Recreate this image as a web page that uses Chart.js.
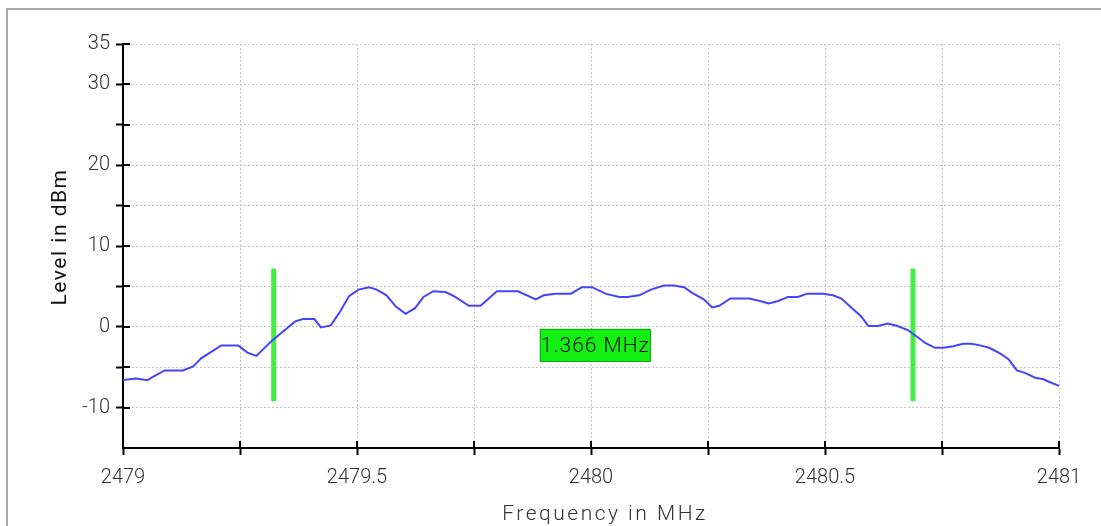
<!DOCTYPE html>
<html>
<head>
<meta charset="utf-8">
<script src="https://cdn.jsdelivr.net/npm/chart.js@4.4.1/dist/chart.umd.min.js"></script>
<style>
    body { margin: 0; background: #fff; }
    #marco {
        position: absolute; left: 6px; top: 8px; width: 1095px; height: 518px;
        border-top: 2px solid #a6a6a6; border-left: 2px solid #a6a6a6;
    }
    #grafica { position: absolute; left: 0; top: 0; }
</style>
</head>
<body>
<div id="marco"></div>
<canvas id="grafica" width="1101" height="526"></canvas>
<script>
// espectro medido (MHz, dBm)
const frecuencias = [
    2479.000, 2479.028, 2479.052, 2479.064, 2479.089, 2479.128, 2479.150, 2479.167,
    2479.210, 2479.246, 2479.266, 2479.285, 2479.317, 2479.331, 2479.368, 2479.385,
    2479.409, 2479.423, 2479.444, 2479.464, 2479.483, 2479.503, 2479.526, 2479.542,
    2479.563, 2479.583, 2479.604, 2479.624, 2479.642, 2479.663, 2479.689, 2479.710,
    2479.739, 2479.764, 2479.799, 2479.844, 2479.882, 2479.899, 2479.924, 2479.957,
    2479.981, 2480.002, 2480.031, 2480.060, 2480.078, 2480.103, 2480.128, 2480.156,
    2480.177, 2480.199, 2480.216, 2480.241, 2480.259, 2480.274, 2480.298, 2480.338,
    2480.357, 2480.380, 2480.400, 2480.421, 2480.442, 2480.462, 2480.496, 2480.517,
    2480.535, 2480.556, 2480.577, 2480.593, 2480.613, 2480.634, 2480.655, 2480.677,
    2480.696, 2480.714, 2480.735, 2480.753, 2480.774, 2480.795, 2480.813, 2480.831,
    2480.851, 2480.874, 2480.892, 2480.910, 2480.927, 2480.949, 2480.967, 2480.978,
    2481.000
];
const niveles = [
    -6.6, -6.4, -6.6, -6.2, -5.4, -5.4, -4.9, -3.9,
    -2.3, -2.3, -3.2, -3.6, -1.8, -1.1, 0.67, 0.96,
    0.96, -0.08, 0.17, 1.9, 3.8, 4.6, 4.9, 4.6,
    3.9, 2.5, 1.6, 2.3, 3.7, 4.4, 4.3, 3.7,
    2.6, 2.6, 4.4, 4.4, 3.4, 3.9, 4.1, 4.1,
    4.9, 4.9, 4.1, 3.7, 3.7, 3.9, 4.6, 5.1,
    5.1, 4.9, 4.2, 3.4, 2.4, 2.6, 3.5, 3.5,
    3.25, 2.9, 3.2, 3.7, 3.7, 4.1, 4.1, 3.9,
    3.5, 2.4, 1.3, 0.1, 0.1, 0.4, 0.1, -0.4,
    -1.2, -2.0, -2.6, -2.6, -2.4, -2.1, -2.1, -2.3,
    -2.6, -3.3, -4.0, -5.4, -5.7, -6.3, -6.5, -6.8,
    -7.3
];

// marcadores de ancho de banda
const marcadores = [2479.322, 2480.688];
const marcadorNivel = [-9.2, 7.2];
const etiquetaAncho = "1.366 MHz";
const etiquetaNivel = -2.3;

// etiquetas de los ejes
const etiquetasY = [35, 30, 20, 10, 0, -10];
const etiquetasX = [2479, 2479.5, 2480, 2480.5, 2481];

const fuenteTicks = { family: "Roboto", size: 20, weight: 300 };

const extras = {
    id: "extras",
    afterDraw(chart) {
        const ctx = chart.ctx;
        const x = chart.scales.x;
        const y = chart.scales.y;
        ctx.save();
        // mitad interior de las marcas
        ctx.strokeStyle = "#000";
        ctx.lineWidth = 2;
        y.ticks.forEach((t) => {
            if (t.value <= y.min) return;
            const py = Math.round(y.getPixelForValue(t.value));
            ctx.beginPath();
            ctx.moveTo(x.left, py);
            ctx.lineTo(x.left + 7, py);
            ctx.stroke();
        });
        x.ticks.forEach((t) => {
            if (t.value <= x.min) return;
            const px = Math.round(x.getPixelForValue(t.value));
            ctx.beginPath();
            ctx.moveTo(px, y.bottom);
            ctx.lineTo(px, y.bottom - 7);
            ctx.stroke();
        });

        // titulos
        ctx.fillStyle = "#111";
        ctx.font = "400 21px Roboto";
        ctx.textAlign = "center";
        ctx.textBaseline = "middle";
        ctx.save();
        ctx.translate(61, 237);
        ctx.rotate(-Math.PI / 2);
        ctx.letterSpacing = "1.5px";
        ctx.fillText("Level in dBm", 0, 0);
        ctx.restore();
        ctx.fillStyle = "#333";
        ctx.font = "300 21px Roboto";
        ctx.letterSpacing = "2.5px";
        ctx.fillText("Frequency in MHz", 605, 515);
        ctx.letterSpacing = "0px";

        // caja con el ancho de banda
        const cx = x.getPixelForValue((marcadores[0] + marcadores[1]) / 2);
        const cy = y.getPixelForValue(etiquetaNivel);
        const w = 111, h = 33;
        ctx.fillStyle = "#14f014";
        ctx.fillRect(cx - w / 2 + 2, cy - h / 2, w, h);
        ctx.strokeStyle = "#0aa80a";
        ctx.lineWidth = 1;
        ctx.strokeRect(cx - w / 2 + 2.5, cy - h / 2 + 0.5, w - 1, h - 1);
        ctx.fillStyle = "#111";
        ctx.font = "300 21px Roboto";
        ctx.letterSpacing = "1px";
        ctx.fillText(etiquetaAncho, cx + 2, cy + 1);
        ctx.restore();
    },
};

const puntos = frecuencias.map((f, i) => ({ x: f, y: niveles[i] }));
const lineasMarcador = marcadores.map((f) => ({
    data: marcadorNivel.map((v) => ({ x: f, y: v })),
    borderColor: "#44ee44",
    borderWidth: 5,
    pointRadius: 0,
    borderCapStyle: "butt",
}));

new Chart(document.getElementById("grafica"), {
    type: "line",
    data: {
        datasets: [
            {
                data: puntos,
                borderColor: "#4444ff",
                borderWidth: 2,
                pointRadius: 0,
                tension: 0,
            },
            ...lineasMarcador,
        ],
    },
    options: {
        responsive: false,
        animation: false,
        devicePixelRatio: 1,
        layout: { padding: { left: 0, top: 44, right: 42, bottom: 0 } },
        plugins: { legend: { display: false }, tooltip: { enabled: false } },
        scales: {
            x: {
                type: "linear",
                min: 2479,
                max: 2481,
                afterFit: (s) => { s.height = 78; },
                ticks: {
                    stepSize: 0.25,
                    autoSkip: false,
                    maxRotation: 0,
                    padding: 11,
                    color: "#333",
                    font: fuenteTicks,
                    callback: (v) => (etiquetasX.includes(v) ? String(v) : ""),
                },
                grid: {
                    color: "#c4c4c4",
                    lineWidth: 1,
                    tickColor: "#000",
                    tickWidth: 2,
                    tickLength: 7,
                },
                border: { display: true, color: "#000", width: 2, dash: [2, 2] },
            },
            y: {
                min: -15,
                max: 35,
                afterFit: (s) => { s.width = 123; },
                ticks: {
                    stepSize: 5,
                    padding: 6,
                    color: "#333",
                    font: fuenteTicks,
                    callback: (v) => (etiquetasY.includes(v) ? String(v) : ""),
                },
                grid: {
                    color: (c) => (c.tick && c.tick.value === -15 ? "rgba(0,0,0,0)" : "#c4c4c4"),
                    lineWidth: 1,
                    tickColor: (c) => (c.tick && c.tick.value === -15 ? "rgba(0,0,0,0)" : "#000"),
                    tickWidth: 2,
                    tickLength: 7,
                },
                border: { display: true, color: "#000", width: 2, dash: [2, 2] },
            },
        },
    },
    plugins: [extras],
});
</script>
</body>
</html>
